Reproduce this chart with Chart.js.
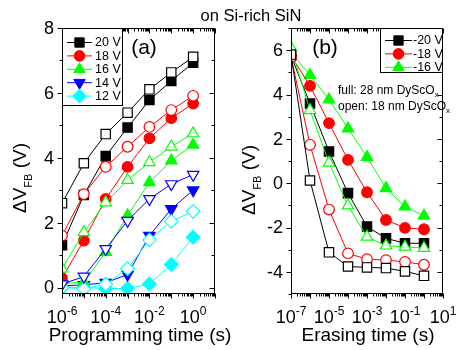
<!DOCTYPE html>
<html>
<head>
<meta charset="utf-8">
<script src="https://cdn.jsdelivr.net/npm/chart.js@4.4.1/dist/chart.umd.min.js"></script>
<style>
html, body { margin: 0; padding: 0; background: #fff; }
#wrap { position: relative; width: 457px; height: 350px; }
#wrap canvas { position: absolute; left: 0; top: 0; }
</style>
</head>
<body>
<div id="wrap">
	<canvas id="chartA" width="457" height="350"></canvas>
	<canvas id="chartB" width="457" height="350"></canvas>
</div>
<script>
// panel (a): programming
const progTime = [1e-6, 1e-5, 1e-4, 1e-3, 1e-2, 1e-1, 1];
const progNames = ['20 V', '18 V', '16 V', '14 V', '12 V'];
const prog20Full = [1.3, 2.85, 4.05, 4.93, 5.78, 6.37, 6.93];
const prog20Open = [2.6, 3.83, 4.73, 5.39, 6.11, 6.63, 7.11];
const prog18Full = [0.29, 1.45, 2.73, 3.72, 4.6, 5.22, 5.67];
const prog18Open = [1.6, 2.88, 3.72, 4.34, 4.95, 5.47, 5.91];
const prog16Full = [0.12, 0.16, 1.09, 2.22, 3.24, 3.91, 4.4];
const prog16Open = [0.58, 1.7, 2.62, 3.31, 3.86, 4.34, 4.75];
const prog14Full = [0.05, 0.08, 0.15, 0.4, 1.6, 2.42, 3.0];
const prog14Open = [0.1, 0.34, 1.19, 2.06, 2.73, 3.19, 3.48];
const prog12Full = [0, 0, -0.03, -0.03, 0.11, 0.71, 1.55];
const prog12Open = [0, -0.04, 0.1, 0.58, 1.47, 2.04, 2.35];

// panel (b): erasing
const eraseTime = [1e-7, 1e-6, 1e-5, 1e-4, 1e-3, 1e-2, 1e-1, 1];
const eraseNames = ['-20 V', '-18 V', '-16 V'];
const erase20Full = [5.75, 3.59, 1.43, -0.45, -1.96, -2.49, -2.71, -2.71];
const erase20Open = [5.8, 0.12, -3.12, -3.76, -3.8, -3.83, -3.98, -4.18];
const erase18Full = [5.75, 4.39, 2.71, 1.05, -0.41, -1.66, -2.02, -2.08];
const erase18Open = [5.7, 1.73, -1.19, -3.17, -3.43, -3.47, -3.55, -3.68];
const erase16Full = [5.9, 4.87, 3.77, 2.46, 1.18, -0.23, -1.06, -1.47];
const erase16Open = [6.1, 3.29, 0.92, -1.01, -2.42, -2.82, -2.87, -2.93];

// axis ticks
const progYTicks = [0, 2, 4, 6, 8];
const eraseYTicks = [-4, -2, 0, 2, 4, 6];
const progXLabelExp = [-6, -4, -2, 0];
const eraseXLabelExp = [-7, -5, -3, -1, 1];

// look of each voltage series
const colors = ['#000000', '#ff0000', '#00ff00', '#0000ff', '#00ffff'];
const shapes = ['rect', 'circle', 'triangle', 'triangle', 'rectRot'];
const turns = [0, 0, 0, 180, 0];
const sizes = [6.6, 5.3, 6.6, 6.6, 6.8];

const FONT = '"Liberation Sans", Arial, sans-serif';

function series(times, vals, i, open) {
	return {
		data: times.map((t, k) => ({ x: t, y: vals[k] })),
		borderColor: colors[i],
		backgroundColor: colors[i],
		borderWidth: 1,
		pointStyle: shapes[i],
		pointRotation: turns[i],
		pointRadius: sizes[i],
		pointBorderWidth: 1.2,
		pointBorderColor: colors[i],
		pointBackgroundColor: open ? '#ffffff' : colors[i],
		tension: 0,
		clip: 0
	};
}

function seg(ctx, x1, y1, x2, y2) {
	ctx.beginPath();
	ctx.moveTo(x1, y1);
	ctx.lineTo(x2, y2);
	ctx.stroke();
}

function powerLabel(ctx, e, x, y) {
	ctx.font = '18px ' + FONT;
	const wb = ctx.measureText('10').width;
	ctx.font = '12px ' + FONT;
	const ws = ctx.measureText(String(e)).width;
	const x0 = x - (wb + ws) / 2;
	ctx.textAlign = 'left';
	ctx.textBaseline = 'alphabetic';
	ctx.font = '18px ' + FONT;
	ctx.fillText('10', x0, y);
	ctx.font = '12px ' + FONT;
	ctx.fillText(String(e), x0 + wb, y - 8);
}

function deltaTitle(ctx, cx, cy) {
	ctx.save();
	ctx.translate(cx, cy);
	ctx.rotate(-Math.PI / 2);
	ctx.textAlign = 'left';
	ctx.textBaseline = 'alphabetic';
	ctx.font = '19px ' + FONT;
	const w1 = ctx.measureText('\u0394V').width;
	const w3 = ctx.measureText(' (V)').width;
	ctx.font = '11px ' + FONT;
	const w2 = ctx.measureText('FB').width;
	let x = -(w1 + w2 + w3) / 2;
	ctx.font = '19px ' + FONT;
	ctx.fillText('\u0394V', x, 0);
	x += w1;
	ctx.font = '11px ' + FONT;
	ctx.fillText('FB', x, 6);
	x += w2;
	ctx.font = '19px ' + FONT;
	ctx.fillText(' (V)', x, 0);
	ctx.restore();
}

const frameAxes = {
	id: 'frameAxes',
	afterDatasetsDraw(chart, args, opts) {
		const { ctx, chartArea: a, scales: { x, y } } = chart;
		const L = a.left + 0.5, R = a.right - 0.5, T = a.top + 0.5, B = a.bottom - 0.5;
		ctx.save();
		ctx.strokeStyle = '#000';
		ctx.fillStyle = '#000';
		ctx.lineWidth = 1;

		// log x ticks, out at the bottom, in at the top
		const e0 = Math.floor(Math.log10(x.min)), e1 = Math.ceil(Math.log10(x.max));
		for (let e = e0; e <= e1; e++) {
			for (let m = 1; m <= 9; m++) {
				const v = m * Math.pow(10, e);
				if (v < x.min * 0.999 || v > x.max * 1.001) continue;
				const px = Math.round(x.getPixelForValue(v)) + 0.5;
				const len = m === 1 ? 5 : 3;
				seg(ctx, px, B, px, B + len);
				seg(ctx, px, T, px, T + len);
			}
		}
		opts.xLabels.forEach(e => powerLabel(ctx, e, x.getPixelForValue(Math.pow(10, e)), 323));

		// linear y ticks, out on the left, in on the right
		for (let v = Math.ceil(y.min); v <= y.max; v++) {
			const py = Math.round(y.getPixelForValue(v)) + 0.5;
			const len = opts.yTicks.includes(v) ? 5 : 3;
			seg(ctx, L, py, L - len, py);
			seg(ctx, R, py, R - len, py);
		}
		ctx.font = '18px ' + FONT;
		ctx.textAlign = 'right';
		ctx.textBaseline = 'middle';
		opts.yTicks.forEach(v => ctx.fillText(String(v), a.left - 8, y.getPixelForValue(v) + 1));

		ctx.strokeRect(L, T, R - L, B - T);

		// axis titles
		ctx.font = '19px ' + FONT;
		ctx.textAlign = 'center';
		ctx.textBaseline = 'alphabetic';
		ctx.fillText(opts.xTitle, opts.xTitleX, 341);
		deltaTitle(ctx, opts.yTitleX, opts.yTitleY);

		// panel tag
		ctx.font = '21px ' + FONT;
		ctx.fillText(opts.tag, opts.tagX, 54);

		// legend box
		const lg = opts.legend;
		const bl = lg.atRight ? lg.edge : L;
		const br = lg.atRight ? R : lg.edge;
		ctx.fillStyle = '#fff';
		ctx.fillRect(bl, T, br - bl, lg.bottom - T);
		ctx.strokeRect(bl, T, br - bl, lg.bottom - T);
		lg.names.forEach((name, i) => {
			const ly = lg.top + i * lg.step;
			ctx.strokeStyle = colors[i];
			ctx.fillStyle = colors[i];
			ctx.lineWidth = 1;
			seg(ctx, lg.lineFrom, ly, lg.lineTo, ly);
			Chart.helpers.drawPoint(ctx, {
				pointStyle: shapes[i], rotation: turns[i], radius: sizes[i], borderWidth: 1.2
			}, (lg.lineFrom + lg.lineTo) / 2, ly);
			ctx.fillStyle = '#000';
			ctx.font = '12.5px ' + FONT;
			ctx.textAlign = 'left';
			ctx.textBaseline = 'middle';
			ctx.fillText(name, lg.textX, ly + 0.5);
		});
		ctx.strokeStyle = '#000';

		if (opts.extra) opts.extra(ctx);
		ctx.restore();
	}
};

function buildChart(canvasId, times, fullSets, openSets, xRange, yRange, padding, axes) {
	const datasets = [];
	openSets.forEach((vals, i) => datasets.push(series(times, vals, i, true)));
	fullSets.forEach((vals, i) => datasets.push(series(times, vals, i, false)));
	return new Chart(document.getElementById(canvasId), {
		type: 'line',
		data: { datasets: datasets },
		options: {
			responsive: false,
			animation: false,
			events: [],
			layout: { padding: padding },
			plugins: {
				legend: { display: false },
				tooltip: { enabled: false },
				frameAxes: axes
			},
			scales: {
				x: { type: 'logarithmic', display: false, min: xRange[0], max: xRange[1] },
				y: { type: 'linear', display: false, min: yRange[0], max: yRange[1] }
			}
		},
		plugins: [frameAxes]
	});
}

buildChart('chartA', progTime,
	[prog20Full, prog18Full, prog16Full, prog14Full, prog12Full],
	[prog20Open, prog18Open, prog16Open, prog14Open, prog12Open],
	[1e-6, 10], [-0.2, 8],
	{ left: 62, right: 242, top: 28, bottom: 56 },
	{
		xLabels: progXLabelExp, yTicks: progYTicks,
		xTitle: 'Programming time (s)', xTitleX: 140,
		yTitleX: 26, yTitleY: 178,
		tag: '(a)', tagX: 144,
		legend: { names: progNames, atRight: false, edge: 122.5, bottom: 105.5, top: 42.5, step: 13.4, lineFrom: 67, lineTo: 92, textX: 95 },
		extra: ctx => {
			ctx.fillStyle = '#000';
			ctx.font = '16.5px ' + FONT;
			ctx.textAlign = 'center';
			ctx.textBaseline = 'alphabetic';
			ctx.fillText('on Si-rich SiN', 251, 21);
		}
	});

function oxideNote(ctx, text, x, y) {
	ctx.fillStyle = '#000';
	ctx.textAlign = 'left';
	ctx.textBaseline = 'alphabetic';
	ctx.font = '12px ' + FONT;
	ctx.fillText(text, x, y);
	const w = ctx.measureText(text).width;
	ctx.font = '8px ' + FONT;
	ctx.fillText('x', x + w, y + 3);
}

buildChart('chartB', eraseTime,
	[erase20Full, erase18Full, erase16Full],
	[erase20Open, erase18Open, erase16Open],
	[1e-7, 10], [-5, 7],
	{ left: 291, right: 14, top: 28, bottom: 56 },
	{
		xLabels: eraseXLabelExp, yTicks: eraseYTicks,
		xTitle: 'Erasing time (s)', xTitleX: 368,
		yTitleX: 255, yTitleY: 180,
		tag: '(b)', tagX: 325,
		legend: { names: eraseNames, atRight: true, edge: 380.5, bottom: 72.5, top: 40.5, step: 13.4, lineFrom: 385, lineTo: 412, textX: 413 },
		extra: ctx => {
			oxideNote(ctx, 'full: 28 nm DyScO', 338, 94);
			oxideNote(ctx, 'open: 18 nm DyScO', 338, 110);
		}
	});
</script>
</body>
</html>
